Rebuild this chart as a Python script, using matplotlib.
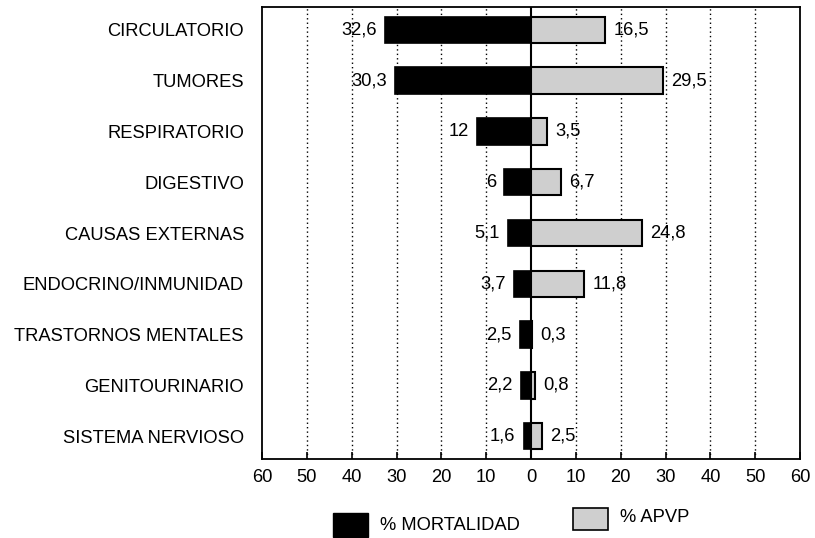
import matplotlib
matplotlib.use("Agg")
import matplotlib.pyplot as plt
from matplotlib.patches import Rectangle
import numpy as np

plt.rcParams['font.family'] = ['Liberation Sans', 'DejaVu Sans']

categories = ["CIRCULATORIO", "TUMORES", "RESPIRATORIO", "DIGESTIVO",
              "CAUSAS EXTERNAS", "ENDOCRINO/INMUNIDAD", "TRASTORNOS MENTALES",
              "GENITOURINARIO", "SISTEMA NERVIOSO"]
mortalidad = [32.6, 30.3, 12, 6, 5.1, 3.7, 2.5, 2.2, 1.6]
apvp = [16.5, 29.5, 3.5, 6.7, 24.8, 11.8, 0.3, 0.8, 2.5]
xticks = [-60, -50, -40, -30, -20, -10, 0, 10, 20, 30, 40, 50, 60]
xticklabels = ["60", "50", "40", "30", "20", "10", "0", "10", "20", "30", "40", "50", "60"]

def fmt(v):
    return ("%g" % v).replace(".", ",")

FS = 13.2
fig = plt.figure(figsize=(8.15, 5.38), dpi=100)
ax = fig.add_axes([262/815, 1-459/538, (800-262)/815, (459-7)/538])

y = np.arange(len(categories))
h = 0.52
gray = '#cfcfcf'
ax.barh(y, [-v for v in mortalidad], height=h, color='black', edgecolor='black', linewidth=1.2, zorder=3)
ax.barh(y, apvp, height=h, color=gray, edgecolor='black', linewidth=1.5, zorder=3)

for i, (m, a) in enumerate(zip(mortalidad, apvp)):
    ax.annotate(fmt(m), (-m, i), xytext=(-6, 0), textcoords='offset points',
                ha='right', va='center', fontsize=FS, zorder=4)
    ax.annotate(fmt(a), (a, i), xytext=(6, 0), textcoords='offset points',
                ha='left', va='center', fontsize=FS, zorder=4)

ax.set_xlim(-60, 60)
ax.set_ylim(len(categories) - 1 + 0.45, -0.45)
ax.set_xticks(xticks)
ax.set_xticklabels(xticklabels, fontsize=FS)
ax.set_yticks(y)
ax.set_yticklabels(categories, fontsize=FS)
ax.tick_params(axis='y', length=0, pad=13)
ax.tick_params(axis='x', direction='in', length=5, width=1.2, pad=7)

for t in xticks:
    if t in (-60, 60):
        continue
    if t == 0:
        ax.axvline(0, color='black', linewidth=1.5, zorder=2)
    else:
        ax.axvline(t, color='black', linewidth=1.0, linestyle=(0, (1, 2.2)), zorder=1)

for s in ax.spines.values():
    s.set_linewidth(1.3)

# legend
fig.patches.append(Rectangle((333/815, 1-537/538), 35/815, 24/538, transform=fig.transFigure,
                             facecolor='black', edgecolor='black'))
fig.text(380/815, 1-525/538, "% MORTALIDAD", fontsize=FS, va='center', ha='left')
fig.patches.append(Rectangle((573/815, 1-530/538), 35/815, 22/538, transform=fig.transFigure,
                             facecolor=gray, edgecolor='black', linewidth=1.2))
fig.text(620/815, 1-517/538, "% APVP", fontsize=FS, va='center', ha='left')

fig.savefig("out.png", dpi=100)
